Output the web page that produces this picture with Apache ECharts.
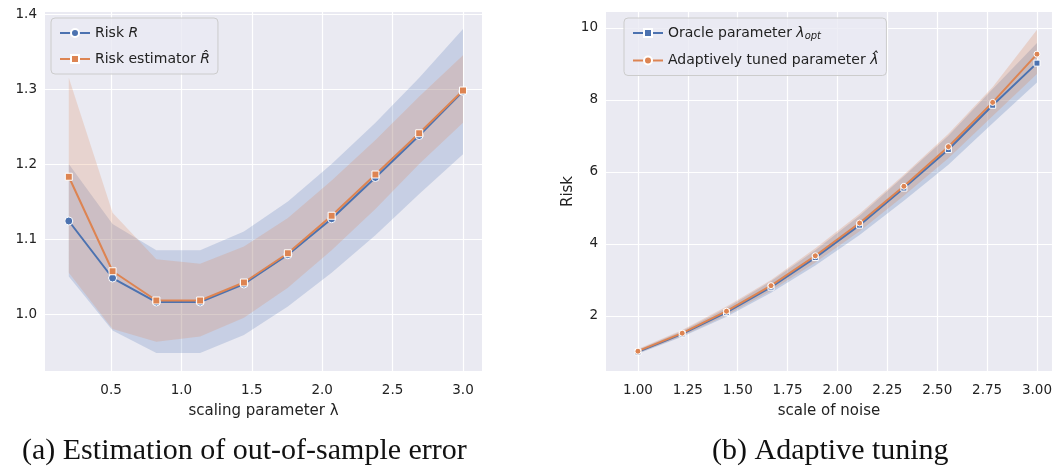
<!DOCTYPE html>
<html>
<head>
<meta charset="utf-8">
<script src="https://cdn.jsdelivr.net/npm/echarts@6/dist/echarts.min.js"></script>
<style>
    html, body { margin: 0; padding: 0; background: #fff; }
    #container { width: 1055px; height: 471px; }
</style>
</head>
<body>
<div id="container"></div>
<script>
    // left panel: scaling parameter
    var lamX = [0.2, 0.511, 0.822, 1.133, 1.444, 1.756, 2.067, 2.378, 2.689, 3.0];
    var riskR = [1.124, 1.048, 1.016, 1.016, 1.040, 1.079, 1.127, 1.182, 1.238, 1.297];
    var riskRLow = [1.050, 0.978, 0.948, 0.948, 0.972, 1.010, 1.055, 1.105, 1.160, 1.213];
    var riskRHigh = [1.200, 1.120, 1.085, 1.085, 1.110, 1.150, 1.200, 1.255, 1.315, 1.380];
    var riskEst = [1.183, 1.057, 1.018, 1.018, 1.042, 1.081, 1.131, 1.186, 1.241, 1.298];
    var riskEstLow = [1.055, 0.980, 0.963, 0.970, 0.995, 1.035, 1.085, 1.140, 1.200, 1.255];
    var riskEstHigh = [1.315, 1.135, 1.073, 1.067, 1.090, 1.128, 1.178, 1.232, 1.290, 1.345];
    var leftYTicks = [1.0, 1.1, 1.2, 1.3, 1.4];
    var leftXTicks = [0.5, 1.0, 1.5, 2.0, 2.5, 3.0];

    // right panel: scale of noise
    var noiseX = [1.0, 1.222, 1.444, 1.667, 1.889, 2.111, 2.333, 2.556, 2.778, 3.0];
    var oracle = [1.00, 1.50, 2.10, 2.80, 3.62, 4.52, 5.55, 6.62, 7.85, 9.02];
    var oracleLow = [0.95, 1.42, 1.98, 2.64, 3.40, 4.25, 5.20, 6.20, 7.35, 8.48];
    var oracleHigh = [1.06, 1.58, 2.22, 2.96, 3.82, 4.78, 5.88, 7.00, 8.30, 9.58];
    var adaptive = [1.02, 1.52, 2.13, 2.84, 3.67, 4.58, 5.60, 6.70, 7.93, 9.27];
    var adaptiveLow = [0.97, 1.44, 2.02, 2.70, 3.48, 4.35, 5.34, 6.38, 7.55, 8.72];
    var adaptiveHigh = [1.08, 1.61, 2.26, 3.00, 3.88, 4.84, 5.92, 7.06, 8.36, 9.95];
    var rightYTicks = [2, 4, 6, 8, 10];
    var rightXTicks = [1.0, 1.25, 1.5, 1.75, 2.0, 2.25, 2.5, 2.75, 3.0];

    var BLUE = '#4c72b0', ORANGE = '#dd8452';
    var FONT = 'DejaVu Sans';

    function pairs(xs, ys) {
        return xs.map(function (x, i) { return [x, ys[i]]; });
    }
    // confidence band drawn as one polygon through the axis scales
    function band(idx, xs, lo, hi, color, op) {
        return {
            type: 'custom', xAxisIndex: idx, yAxisIndex: idx, silent: true, z: 1,
            data: [0],
            renderItem: function (params, api) {
                var pts = [];
                for (var i = 0; i < xs.length; i++) pts.push(api.coord([xs[i], hi[i]]));
                for (var j = xs.length - 1; j >= 0; j--) pts.push(api.coord([xs[j], lo[j]]));
                return {type: 'polygon', shape: {points: pts}, style: {fill: color, opacity: op}};
            }
        };
    }
    function main(idx, name, xs, ys, color, sym, size) {
        return {
            name: name, type: 'line', xAxisIndex: idx, yAxisIndex: idx, data: pairs(xs, ys),
            symbol: sym, symbolSize: size, z: 5,
            lineStyle: {color: color, width: 2},
            itemStyle: {color: color, borderColor: '#fff', borderWidth: 1}
        };
    }
    function xAxis(idx, min, max, ticks, name, fmt) {
        return {
            type: 'value', gridIndex: idx, min: min, max: max,
            name: name, nameLocation: 'middle', nameGap: 33,
            nameTextStyle: {fontFamily: FONT, fontSize: 15, color: '#222'},
            axisLine: {show: false}, axisTick: {show: false, customValues: ticks},
            axisLabel: {customValues: ticks, margin: 12, fontFamily: FONT, fontSize: 13.5, color: '#222', formatter: fmt},
            splitLine: {show: true, lineStyle: {color: '#fff', width: 1.2}}
        };
    }
    function yAxis(idx, min, max, ticks, name, fmt) {
        return {
            type: 'value', gridIndex: idx, min: min, max: max,
            name: name, nameLocation: 'middle', nameGap: 30, nameRotate: 90,
            nameTextStyle: {fontFamily: FONT, fontSize: 15, color: '#222'},
            axisLine: {show: false}, axisTick: {show: false, customValues: ticks},
            axisLabel: {customValues: ticks, fontFamily: FONT, fontSize: 13.5, color: '#222', formatter: fmt},
            splitLine: {show: true, lineStyle: {color: '#fff', width: 1.2}}
        };
    }

    var myChart = echarts.init(document.getElementById('container'));
    var legendRich = {
        n: {fontFamily: FONT, fontSize: 14, color: '#222'},
        i: {fontFamily: FONT, fontSize: 14, fontStyle: 'italic', color: '#222'},
        s: {fontFamily: FONT, fontSize: 10, fontStyle: 'italic', color: '#222', verticalAlign: 'bottom', padding: [7, 0, 0, 0]}
    };
    var option = {
        animation: false,
        grid: [
            {left: 45, top: 12, width: 437, height: 359, show: true, backgroundColor: '#eaeaf2', borderWidth: 0},
            {left: 606, top: 12, width: 447, height: 359, show: true, backgroundColor: '#eaeaf2', borderWidth: 0}
        ],
        xAxis: [
            xAxis(0, 0.031, 3.135, leftXTicks, 'scaling parameter λ', function (v) { return v.toFixed(1); }),
            xAxis(1, 0.84, 3.075, rightXTicks, 'scale of noise', function (v) { return v.toFixed(2); })
        ],
        yAxis: [
            yAxis(0, 0.924, 1.4027, leftYTicks, '', function (v) { return v.toFixed(1); }),
            yAxis(1, 0.47, 10.44, rightYTicks, 'Risk', function (v) { return v; })
        ],
        legend: [{
            left: 51, top: 18, orient: 'vertical', itemGap: 12,
            backgroundColor: 'rgba(234,234,242,0.8)', borderColor: '#ccc', borderWidth: 1, borderRadius: 4,
            padding: [8, 8], itemWidth: 30, itemHeight: 10,
            data: ['Risk R', 'Risk estimator R̂'],
            formatter: function (n) {
                return n === 'Risk R' ? '{n|Risk }{i|R}' : '{n|Risk estimator }{i|R̂}';
            },
            textStyle: {rich: legendRich}
        }, {
            left: 624, top: 18, orient: 'vertical', itemGap: 12,
            backgroundColor: 'rgba(234,234,242,0.8)', borderColor: '#ccc', borderWidth: 1, borderRadius: 4,
            padding: [8, 8], itemWidth: 30, itemHeight: 10,
            data: ['Oracle parameter', 'Adaptively tuned parameter'],
            formatter: function (n) {
                return n === 'Oracle parameter' ? '{n|Oracle parameter }{i|λ}{s|opt}' : '{n|Adaptively tuned parameter }{i|λ̂}';
            },
            textStyle: {rich: legendRich}
        }],
        graphic: [
            {type: 'text', left: 22, top: 436, style: {text: '(a) Estimation of out-of-sample error', font: '30px "Liberation Serif", serif', fill: '#111'}},
            {type: 'text', left: 712, top: 436, style: {text: '(b) Adaptive tuning', font: '30px "Liberation Serif", serif', fill: '#111'}}
        ],
        series: [
            band(0, lamX, riskRLow, riskRHigh, BLUE, 0.22),
            band(0, lamX, riskEstLow, riskEstHigh, ORANGE, 0.22),
            band(1, noiseX, oracleLow, oracleHigh, BLUE, 0.25),
            band(1, noiseX, adaptiveLow, adaptiveHigh, ORANGE, 0.25),
            main(0, 'Risk R', lamX, riskR, BLUE, 'circle', 8),
            main(0, 'Risk estimator R̂', lamX, riskEst, ORANGE, 'rect', 7),
            main(1, 'Oracle parameter', noiseX, oracle, BLUE, 'rect', 6),
            main(1, 'Adaptively tuned parameter', noiseX, adaptive, ORANGE, 'circle', 6)
        ]
    };
    myChart.setOption(option);
</script>
</body>
</html>
